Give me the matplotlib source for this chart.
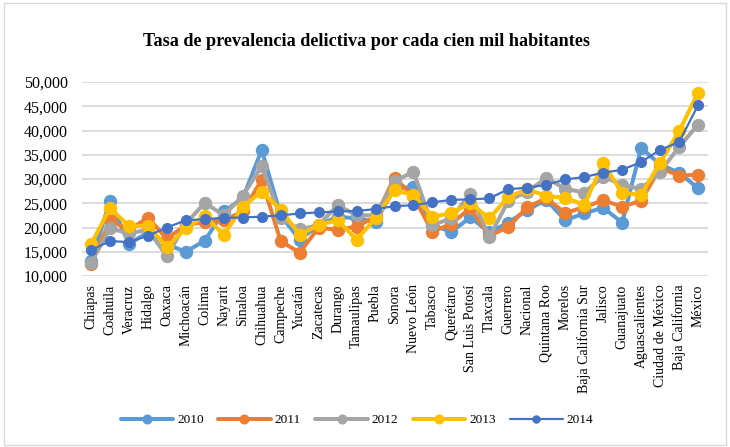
import matplotlib
matplotlib.use("Agg")
import matplotlib.pyplot as plt
from matplotlib.ticker import FuncFormatter
from matplotlib.patches import Rectangle
import numpy as np

estados = [
    "Chiapas", "Coahuila", "Veracruz", "Hidalgo", "Oaxaca", "Michoacán",
    "Colima", "Nayarit", "Sinaloa", "Chihuahua", "Campeche", "Yucatán",
    "Zacatecas", "Durango", "Tamaulipas", "Puebla", "Sonora", "Nuevo León",
    "Tabasco", "Querétaro", "San Luis Potosí", "Tlaxcala", "Guerrero",
    "Nacional", "Quintana Roo", "Morelos", "Baja California Sur", "Jalisco",
    "Guanajuato", "Aguascalientes", "Ciudad de México", "Baja California",
    "México",
]

tasa_2010 = [13000, 25500, 16600, 19000, 16500, 15000, 17300, 23300, 26000,
             36000, 22500, 17500, 20500, 22200, 21900, 21200, 28000, 28400,
             20500, 19100, 22100, 19000, 21000, 23600, 25700, 21500, 22900,
             24100, 21000, 36400, 33000, 31300, 28100]
tasa_2011 = [12500, 21500, 19500, 22000, 17700, 20500, 21200, 21500, 23300,
             29800, 17200, 14800, 20000, 19500, 20200, 22200, 30300, 26400,
             19100, 20800, 24000, 18300, 20100, 24200, 26000, 23000, 24200,
             25600, 24300, 25500, 32300, 30700, 30900]
tasa_2012 = [12700, 19800, 18800, 19500, 14100, 20800, 25100, 22500, 26500,
             32700, 22000, 19600, 20500, 24600, 22500, 22500, 29500, 31500,
             20500, 21900, 27000, 18000, 25500, 27400, 30200, 28000, 27200,
             30500, 28800, 27900, 31500, 36600, 41200]
tasa_2013 = [16500, 24000, 20300, 20300, 16000, 19800, 22400, 18500, 24300,
             27400, 23700, 18500, 20500, 21500, 17500, 21900, 27700, 26700,
             22200, 23000, 25000, 21900, 26300, 27900, 26500, 26100, 24700,
             33200, 27200, 26700, 33400, 39800, 47800]
tasa_2014 = [15300, 17200, 17000, 18300, 20000, 21500, 21700, 22000, 22050,
             22250, 22500, 22900, 23100, 23300, 23400, 23800, 24400, 24600,
             25200, 25700, 25800, 26000, 27900, 28200, 28800, 29900, 30400,
             31300, 31900, 33500, 36000, 37600, 45200]

anios = ["2010", "2011", "2012", "2013", "2014"]
series = [tasa_2010, tasa_2011, tasa_2012, tasa_2013, tasa_2014]
colores = ["#5B9BD5", "#ED7D31", "#A5A5A5", "#FFC000", "#4472C4"]

plt.rcParams["font.family"] = ["Liberation Serif", "DejaVu Serif"]

W, H = 730, 447
fig = plt.figure(figsize=(W / 100, H / 100), dpi=100)
fig.patch.set_facecolor("white")
fig.add_artist(Rectangle((4 / W, 2 / H), 1 - 8 / W, 1 - 5 / H,
                         transform=fig.transFigure, fill=False,
                         edgecolor="#D9D9D9", linewidth=1.0))

ax = fig.add_axes([81.5 / W, 1 - 276 / H, 626 / W, 194 / H])
x = np.arange(len(estados))

for anio, vals, col in zip(anios, series, colores):
    if anio == "2014":
        ax.plot(x, vals, color=col, linewidth=1.6, marker="o",
                markersize=7.0, label=anio, zorder=5, solid_capstyle="round")
    else:
        ax.plot(x, vals, color=col, linewidth=2.9, marker="o",
                markersize=8.6, label=anio, zorder=3, solid_capstyle="round")

ax.set_xlim(-0.5, len(estados) - 0.5)
ax.set_ylim(10000, 50000)
ax.set_yticks(np.arange(10000, 50001, 5000))
ax.yaxis.set_major_formatter(FuncFormatter(lambda v, p: f"{int(v):,}"))
ax.grid(axis="y", color="#D9D9D9", linewidth=1.3, zorder=0)
ax.set_axisbelow(True)
for s in ax.spines.values():
    s.set_visible(False)

ax.set_xticks(x)
ax.set_xticklabels(estados, rotation=90, fontsize=10, va="top", ha="center")
ax.tick_params(axis="x", length=0, pad=6)
ax.tick_params(axis="y", length=0, pad=10, labelsize=11.5)

fig.text(366 / W, 1 - 42 / H,
         "Tasa de prevalencia delictiva por cada cien mil habitantes",
         ha="center", va="center", fontsize=13.1, fontweight="bold")

fig.legend(loc="center", bbox_to_anchor=(357 / W, 1 - 420 / H), ncol=5,
           frameon=False, fontsize=9.5, handlelength=4.0, handletextpad=0.3,
           columnspacing=1.07, borderaxespad=0, markerscale=0.72)

fig.savefig("out.png", dpi=100)
